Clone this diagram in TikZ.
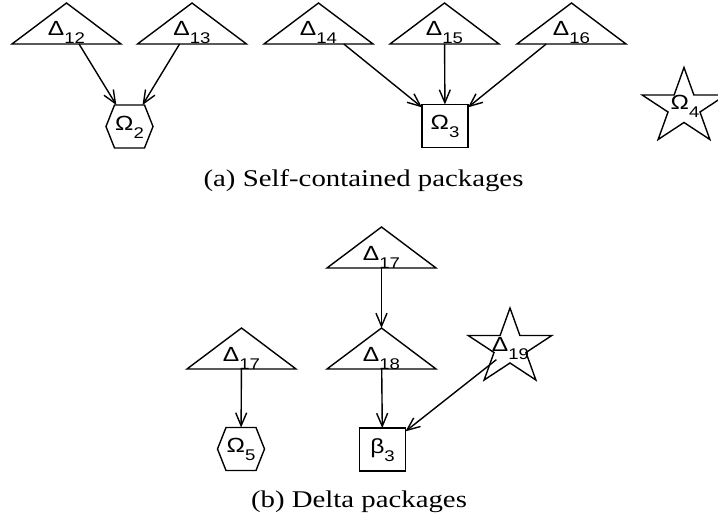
\documentclass[tikz,border=0pt]{standalone}
\usepackage{fontspec}
\setmainfont{Liberation Serif}[FakeStretch=1.2]
\newfontfamily\labfont{Liberation Sans}[FakeStretch=1.2]
\usetikzlibrary{arrows.meta,calc}
\newcommand\lsub[1]{\raisebox{-8pt}{\fontsize{15.5}{15.5}\selectfont #1}}
\newcommand\drawtri[1]{\draw[shapeline] (#1.south west) -- (#1.north) -- (#1.south east) -- cycle;}
\newcommand\drawhex[1]{\draw[shapeline] ([xshift=8.5pt]#1.north west) -- ([xshift=-8.5pt]#1.north east) -- (#1.east) -- ([xshift=-8.5pt]#1.south east) -- ([xshift=8.5pt]#1.south west) -- (#1.west) -- cycle;}
\newcommand\drawstar[3]{\draw[shapeline, shift={($(#1)+(#2,#3)$)}] (0,-36) -- (-9.88,-8.5) -- (-41.84,-8.5) -- (-15.98,8.5) -- (-25.87,36) -- (0,19) -- (25.87,36) -- (15.98,8.5) -- (41.84,-8.5) -- (9.88,-8.5) -- cycle;}
\begin{document}
\begin{tikzpicture}[x=1pt,y=-1pt,
  shapeline/.style={line width=1.4pt, line join=miter},
  lab/.style={font=\labfont\fontsize{20.5}{21}\selectfont, inner sep=0pt, outer sep=0pt},
  tri/.style={lab, minimum width=109pt, minimum height=41pt, text height=25pt, text depth=0pt},
  hex/.style={lab, minimum width=47pt, minimum height=43pt, text height=16pt, text depth=9pt},
  boxnode/.style={lab, draw, line width=1.4pt, minimum width=46pt, minimum height=43pt, text height=16pt, text depth=9pt},
  starlab/.style={lab},
  edge/.style={line width=1.4pt, -{Straight Barb[length=13pt,width=11pt,line width=1.4pt]}},
  caption/.style={font=\fontsize{24}{28}\selectfont, inner sep=0pt, anchor=base}]
\useasboundingbox (0,0) rectangle (718,519);
% (a)
\node[tri] (t12) at (66.5,23.5) {Δ\lsub{12}};
\node[tri] (t13) at (192,23.5) {Δ\lsub{13}};
\node[tri] (t14) at (318.5,23.5) {Δ\lsub{14}};
\node[tri] (t15) at (444.5,23.5) {Δ\lsub{15}};
\node[tri] (t16) at (571.5,23.5) {Δ\lsub{16}};
\node[hex] (h2) at (129.5,126.5) {Ω\lsub{2}};
\node[boxnode] (o3) at (445,126) {Ω\lsub{3}};
\node[starlab] (s4) at (685,106.5) {Ω\lsub{4}};
\node[caption] (capa) at (363.5,186) {(a) Self-contained packages};
\foreach \n in {t12,t13,t14,t15,t16} {\drawtri{\n}}
\drawhex{h2}
\drawstar{s4}{-1}{-3}
\draw[edge] (t12) -- (h2);
\draw[edge] (t13) -- (h2);
\draw[edge] (t14) -- (o3);
\draw[edge] (t15) -- (o3);
\draw[edge] (t16) -- (o3);
% (b)
\node[tri] (t17a) at (381.5,247.5) {Δ\lsub{17}};
\node[tri] (t17b) at (241.5,348.5) {Δ\lsub{17}};
\node[tri] (t18) at (381.5,348.5) {Δ\lsub{18}};
\node[starlab] (s19) at (510.5,348.5) {Δ\lsub{19}};
\node[hex] (h5) at (241,449) {Ω\lsub{5}};
\node[boxnode] (b3) at (382.5,449.5) {β\lsub{3}};
\node[caption] (capb) at (359,507) {(b) Delta packages};
\foreach \n in {t17a,t17b,t18} {\drawtri{\n}}
\drawhex{h5}
\drawstar{s19}{-0.5}{-4.5}
\draw[edge] (t17a) -- (t18);
\draw[edge] (t17b) -- (h5);
\draw[edge] (t18) -- (b3);
\draw[edge] (s19) -- (b3);
\end{tikzpicture}
\end{document}
